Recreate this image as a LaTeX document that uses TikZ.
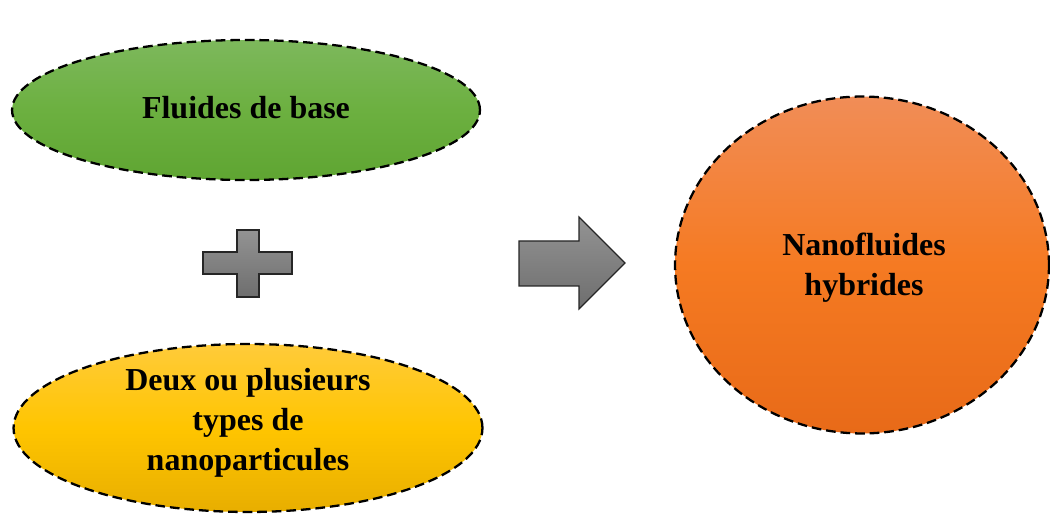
\documentclass[tikz,border=0pt]{standalone}
\usepackage{fontspec}
\setmainfont{Liberation Serif}
\usetikzlibrary{shapes.geometric, positioning}

\definecolor{greentop}{HTML}{7DB85C}
\definecolor{greenmid}{HTML}{6CB040}
\definecolor{greenbot}{HTML}{5FA532}
\definecolor{yeltop}{HTML}{FFCB3A}
\definecolor{yelmid}{HTML}{FFC500}
\definecolor{yelbot}{HTML}{E8AE00}
\definecolor{orgtop}{HTML}{F18D57}
\definecolor{orgmid}{HTML}{F57A22}
\definecolor{orgbot}{HTML}{E86A18}
\definecolor{graytop}{HTML}{939393}
\definecolor{graybot}{HTML}{6E6E6E}

\begin{document}
\begin{tikzpicture}[
  x=0.02cm,y=0.02cm,
  bubble/.style={ellipse,draw=black,line width=1.3pt,dash pattern=on 5.5pt off 2.8pt,inner sep=0pt},
  lbl/.style={align=center,font=\fontsize{18.2}{22.7}\selectfont\bfseries},
  greybox/.style={draw=black!85,line width=0.7pt,top color=graytop,bottom color=graybot}
]
  \useasboundingbox (0,0) rectangle (1050,516);
  \node[bubble,top color=greentop,bottom color=greenbot,middle color=greenmid,minimum width=9.36cm,minimum height=2.8cm](base) at (246,406) {};
  \node[lbl](basetxt) at (246,408) {Fluides de base};
  \node[bubble,top color=yeltop,bottom color=yelbot,middle color=yelmid,minimum width=9.38cm,minimum height=3.36cm](nano) at (248,88) {};
  \node[lbl](nanotxt) at (248,93) {Deux ou plusieurs\\types de\\nanoparticules};
  \node[bubble,top color=orgtop,bottom color=orgbot,middle color=orgmid,minimum width=7.48cm,minimum height=6.74cm](hyb) at (862,251) {};
  \node[lbl](hybtxt) at (864,248) {Nanofluides\\hybrides};
  % plus sign
  \draw[greybox] (237,286)--(259,286)--(259,264)--(292,264)--(292,242)--(259,242)--(259,219)
    --(237,219)--(237,242)--(203,242)--(203,264)--(237,264)--cycle;
  % arrow
  \draw[greybox] (519,275)--(579,275)--(579,299)--(625,253)--(579,207)--(579,230)--(519,230)--cycle;
\end{tikzpicture}
\end{document}
